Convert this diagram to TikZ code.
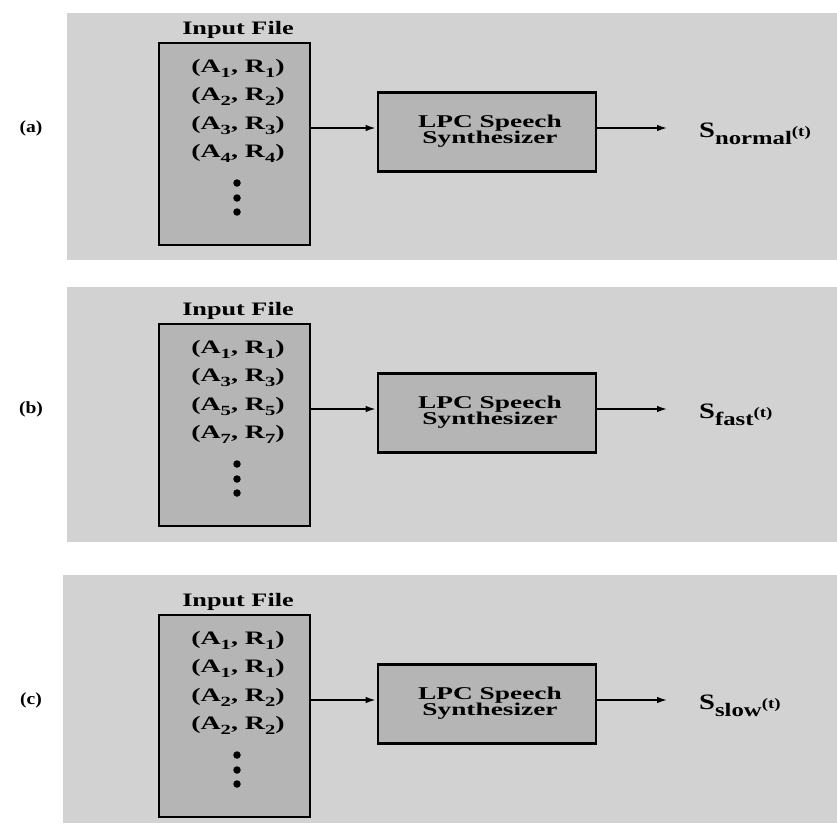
\documentclass[tikz,border=0pt]{standalone}
\usepackage{fontspec}
\setmainfont{Liberation Serif}
\usepackage{graphicx}
\usetikzlibrary{arrows.meta,calc}
\newcommand{\wx}[1]{\scalebox{1.45}[1]{#1}}
\tikzset{
  panelbg/.style={fill=gray!35, draw=none},
  filebox/.style={draw=black, line width=2.8pt, fill=gray!58, inner sep=0pt,
    minimum width=151pt, minimum height=202pt},
  synbox/.style={draw=black, line width=2.8pt, fill=gray!58, inner sep=0pt,
    minimum width=218pt, minimum height=79pt},
  syntext/.style={align=center, inner sep=0pt, font=\fontsize{18}{16.5}\selectfont\bfseries},
  filetitle/.style={inner sep=0pt, font=\fontsize{19}{19}\selectfont\bfseries},
  entry/.style={inner sep=0pt, font=\fontsize{19}{19}\selectfont\bfseries},
  dotmark/.style={circle, fill=black, inner sep=0pt, minimum size=7.5pt},
  tag/.style={inner sep=0pt, font=\fontsize{17}{17}\selectfont\bfseries},
  outlab/.style={inner sep=0pt, anchor=base west, font=\bfseries},
  flow/.style={line width=2.2pt, -{Latex[length=11pt,width=6.5pt]}},
}
\newcommand{\sub}[1]{\raisebox{-5pt}{\fontsize{14}{14}\selectfont #1}}
\newcommand{\pair}[2]{\scalebox{1.47}[1]{(A\sub{#1}, R\sub{#2})}}
% #1 id, #2 arrow y, #3 tag, #4..#7 entries, #8 subscript
\newcommand{\drawpanel}[8]{%
  \coordinate (ay-#1) at (0,#2);
  \node[tag] (lab-#1) at (31,#2) {\scalebox{1.15}[1]{(#3)}};
  \node[filebox] (in-#1) at (234.5,{#2+16}) {};
  \node[filetitle] (tt-#1) at (238,{#2-98}) {\scalebox{1.38}[1]{Input File}};
  \node[entry] (e1-#1) at (238,{#2-60}) {#4};
  \node[entry] (e2-#1) at (238,{#2-32}) {#5};
  \node[entry] (e3-#1) at (238,{#2-3}) {#6};
  \node[entry] (e4-#1) at (238,{#2+25}) {#7};
  \node[dotmark] (d1-#1) at (237,{#2+55}) {};
  \node[dotmark] (d2-#1) at (237,{#2+70}) {};
  \node[dotmark] (d3-#1) at (237,{#2+84}) {};
  \node[synbox] (syn-#1) at (487,{#2+4}) {};
  \node[syntext] (st-#1) at (490,{#2+3}) {\scalebox{1.52}[1]{LPC Speech}\\\scalebox{1.52}[1]{Synthesizer}};
  \draw[flow] (in-#1.east |- ay-#1) -- (syn-#1.west |- ay-#1);
  \coordinate (tip-#1) at (668,#2);
  \draw[flow] (syn-#1.east |- ay-#1) -- (tip-#1);
  \node[outlab] (out-#1) at (699,{#2+9}) {\scalebox{1.3}[1]{\fontsize{22}{22}\selectfont S\raisebox{-7pt}{\fontsize{19}{19}\selectfont #8}\raisebox{1pt}{\fontsize{14.5}{14.5}\selectfont (t)}}};
}
\begin{document}
\begin{tikzpicture}[x=1pt,y=-1pt]
\useasboundingbox (0,0) rectangle (837,823);
\fill[white] (0,0) rectangle (837,823);
\fill[panelbg] (67,13) rectangle (837,260);
\fill[panelbg] (67,287) rectangle (837,542);
\fill[panelbg] (63,575) rectangle (837,823);
\drawpanel{a}{128}{a}{\pair{1}{1}}{\pair{2}{2}}{\pair{3}{3}}{\pair{4}{4}}{normal}
\drawpanel{b}{409}{b}{\pair{1}{1}}{\pair{3}{3}}{\pair{5}{5}}{\pair{7}{7}}{fast}
\drawpanel{c}{700}{c}{\pair{1}{1}}{\pair{1}{1}}{\pair{2}{2}}{\pair{2}{2}}{slow}
\end{tikzpicture}
\end{document}
